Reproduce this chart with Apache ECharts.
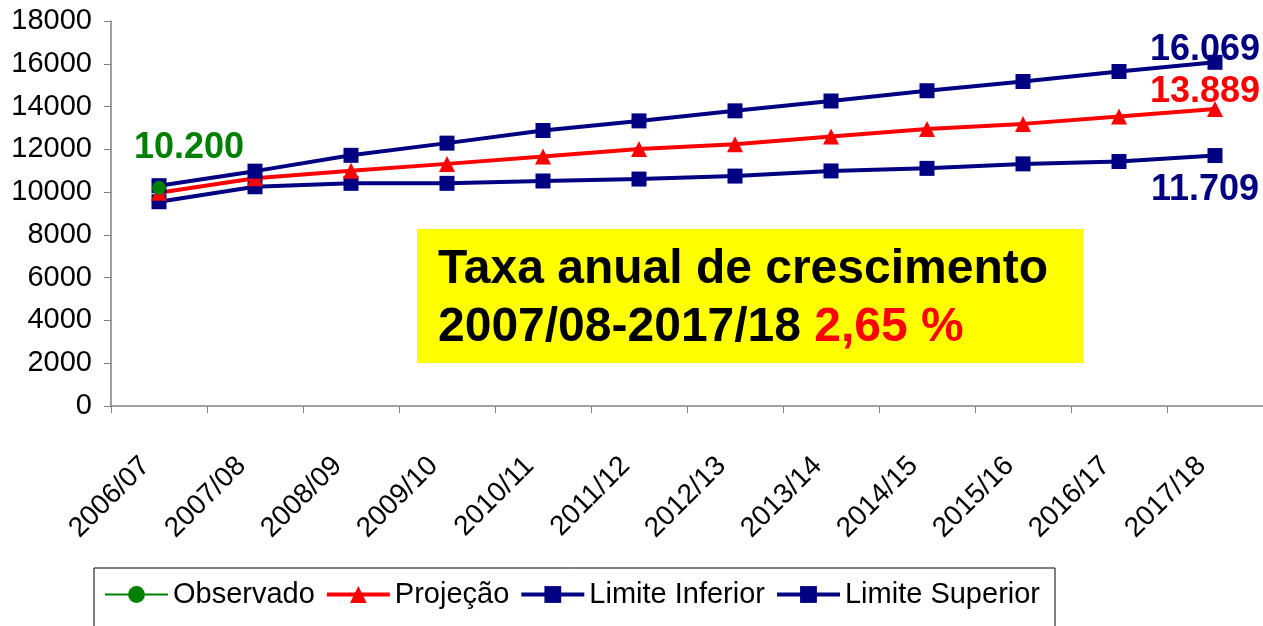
<!DOCTYPE html>
<html>
<head>
<meta charset="utf-8">
<script src="https://cdn.jsdelivr.net/npm/echarts@6/dist/echarts.min.js"></script>
<style>
  html, body { margin: 0; padding: 0; background: #fff; }
</style>
</head>
<body>
<!-- container for the chart -->
<div id="chart" style="width: 1263px; height: 626px"></div>
<script>
// categories (years)
var years = ["2006/07", "2007/08", "2008/09", "2009/10", "2010/11", "2011/12",
  "2012/13", "2013/14", "2014/15", "2015/16", "2016/17", "2017/18"];
// observed value (only first year)
var observado = [10200, null, null, null, null, null, null, null, null, null, null, null];
// projection
var projecao = [9970, 10650, 11000, 11320, 11660, 12020, 12240, 12600, 12950, 13190, 13530, 13889];
// lower limit
var limiteInferior = [9550, 10250, 10410, 10410, 10520, 10610, 10750, 10990, 11110, 11320, 11430, 11709];
// upper limit
var limiteSuperior = [10300, 10980, 11720, 12290, 12880, 13330, 13800, 14260, 14740, 15170, 15640, 16069];
// y axis ticks
var yMin = 0, yMax = 18000, yStep = 2000;

var FONT = "Liberation Sans";

// 16069 -> "16.069"
function fmt(v) {
  return String(v).replace(/\B(?=(\d{3})+(?!\d))/g, ".");
}

// put a big label on one point only
function withLabel(arr, idx, label) {
  return arr.map(function (v, i) {
    if (i !== idx) return v;
    return { value: v, label: label };
  });
}

function bigLabel(color, position, offset) {
  return {
    show: true,
    position: position,
    offset: offset,
    color: color,
    fontFamily: FONT,
    fontWeight: "bold",
    fontSize: 36,
    formatter: function (p) { return fmt(p.value); }
  };
}

var chart = echarts.init(document.getElementById("chart"));
var last = years.length - 1;

chart.setOption({
  animation: false,
  textStyle: { fontFamily: FONT },
  grid: {
    left: 111,
    right: 0,
    top: 21,
    bottom: 220,
    containLabel: false
  },
  legend: {
    left: 94,
    top: 568,
    padding: [12, 15, 30, 10],
    borderColor: "#000",
    borderWidth: 1,
    itemWidth: 63,
    itemHeight: 21,
    itemGap: 10,
    textStyle: { fontFamily: FONT, fontSize: 29, color: "#000" },
    data: [
      { name: "Observado", lineStyle: { width: 2 } },
      { name: "Projeção", lineStyle: { width: 4 } },
      { name: "Limite Inferior", lineStyle: { width: 4 } },
      { name: "Limite Superior", lineStyle: { width: 4 } }
    ]
  },
  xAxis: {
    type: "category",
    data: years,
    boundaryGap: true,
    axisLine: { lineStyle: { color: "#808080", width: 1.5 } },
    axisTick: { show: true, length: 7, lineStyle: { color: "#808080" } },
    axisLabel: {
      rotate: 45,
      margin: 42,
      padding: [0, 19, 0, 0],
      fontFamily: FONT,
      fontSize: 28,
      color: "#000"
    }
  },
  yAxis: {
    type: "value",
    min: yMin,
    max: yMax,
    interval: yStep,
    axisLine: { show: true, lineStyle: { color: "#808080", width: 1.5 } },
    axisTick: { show: true, length: 7, lineStyle: { color: "#808080" } },
    splitLine: { show: false },
    axisLabel: {
      margin: 19,
      fontFamily: FONT,
      fontSize: 29,
      color: "#000",
      formatter: function (v) { return String(v); }
    }
  },
  graphic: [
    {
      type: "rect",
      left: 417,
      top: 229,
      shape: { width: 666, height: 134 },
      style: { fill: "#FFFF00" },
      z: 1
    },
    {
      type: "text",
      left: 438,
      top: 246,
      z: 2,
      style: {
        text: "{b|Taxa anual de crescimento}\n{b|2007/08-2017/18 }{r|2,65 %}",
        rich: {
          b: { fontFamily: FONT, fontWeight: "bold", fontSize: 48, fill: "#000", lineHeight: 58 },
          r: { fontFamily: FONT, fontWeight: "bold", fontSize: 48, fill: "#FF0000", lineHeight: 58 }
        }
      }
    }
  ],
  series: [
    {
      name: "Limite Inferior",
      type: "line",
      data: withLabel(limiteInferior, last, bigLabel("#000080", "bottom", [-10, 4])),
      symbol: "rect",
      symbolSize: 15,
      itemStyle: { color: "#000080" },
      lineStyle: { color: "#000080", width: 4 },
      z: 3
    },
    {
      name: "Projeção",
      type: "line",
      data: withLabel(projecao, last, bigLabel("#FF0000", "top", [-10, 14])),
      symbol: "triangle",
      symbolSize: 16,
      itemStyle: { color: "#FF0000" },
      lineStyle: { color: "#FF0000", width: 4 },
      z: 4
    },
    {
      name: "Limite Superior",
      type: "line",
      data: withLabel(limiteSuperior, last, bigLabel("#000080", "top", [-10, 18])),
      symbol: "rect",
      symbolSize: 15,
      itemStyle: { color: "#000080" },
      lineStyle: { color: "#000080", width: 4 },
      z: 5
    },
    {
      name: "Observado",
      type: "line",
      data: withLabel(observado, 0, bigLabel("#008000", "top", [30, -10])),
      symbol: "circle",
      symbolSize: 14,
      itemStyle: { color: "#008000" },
      lineStyle: { color: "#008000", width: 2 },
      z: 6
    }
  ]
});
</script>
</body>
</html>
